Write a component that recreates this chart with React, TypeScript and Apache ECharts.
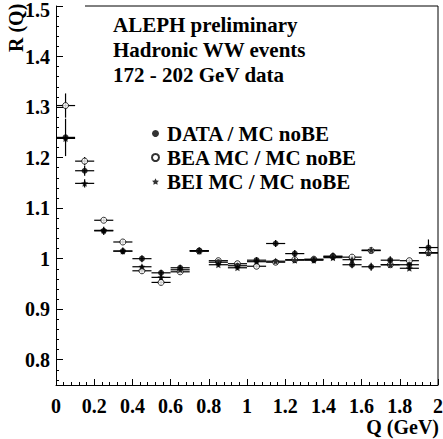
import React, { useEffect, useRef } from "react";
import * as echarts from "echarts";

// ---- Data ----
const qCenters = [0.05, 0.15, 0.25, 0.35, 0.45, 0.55, 0.65, 0.75, 0.85, 0.95, 1.05, 1.15, 1.25, 1.35, 1.45, 1.55, 1.65, 1.75, 1.85, 1.95];
const binHalfWidth = 0.05;

const dataR = [1.240, 1.174, 1.055, 1.015, 1.000, 0.972, 0.982, 1.016, 0.993, 0.986, 0.997, 1.030, 1.010, 0.998, 1.005, 0.988, 0.984, 0.997, 0.988, 1.022];
const dataErr = [0.037, 0.010, 0.008, 0.007, 0.007, 0.006, 0.006, 0.006, 0.006, 0.006, 0.006, 0.007, 0.007, 0.007, 0.007, 0.007, 0.008, 0.008, 0.009, 0.016];

const beaR = [1.303, 1.193, 1.076, 1.033, 0.976, 0.953, 0.974, 1.015, 0.996, 0.990, 0.985, 0.993, 0.998, 0.999, 1.004, 1.003, 1.016, 0.988, 0.996, 1.012];
const beaErr = [0.024, 0.008, 0.004, 0.004, 0.004, 0.004, 0.004, 0.004, 0.004, 0.004, 0.004, 0.004, 0.004, 0.004, 0.004, 0.004, 0.004, 0.004, 0.004, 0.006];

const beiR = [1.238, 1.149, 1.056, 1.015, 0.984, 0.963, 0.978, 1.015, 0.988, 0.982, 0.994, 0.995, 0.997, 0.997, 1.002, 0.998, 1.017, 0.988, 0.981, 1.011];
const beiErr = [0.008, 0.008, 0.004, 0.004, 0.004, 0.004, 0.004, 0.004, 0.004, 0.004, 0.004, 0.004, 0.004, 0.004, 0.004, 0.004, 0.004, 0.004, 0.004, 0.006];

const seriesNames = ["DATA / MC noBE", "BEA MC / MC noBE", "BEI MC / MC noBE"];
const titleLines = ["ALEPH preliminary", "Hadronic WW events", "172 - 202 GeV data"];
const yTickValues = [0.8, 0.9, 1.0, 1.1, 1.2, 1.3, 1.4, 1.5];
const yAxisTitle = "R (Q)";
const xAxisTitle = "Q (GeV)";

const FONT = "Liberation Serif, Times New Roman, serif";
const STAR = "path://M0,-10 L2.9,-4 L9.5,-3.1 L4.7,1.5 L5.9,8.1 L0,5 L-5.9,8.1 L-4.7,1.5 L-9.5,-3.1 L-2.9,-4 Z";

const yMinorTicks: number[] = [];
for (let i = 38; i <= 74; i++) {
  if (i % 5 !== 0) yMinorTicks.push(Math.round(i * 2) / 100);
}

function errorBars(name: string, values: number[], errs: number[]) {
  return {
    type: "custom",
    name,
    z: 2,
    data: qCenters.map((q, i) => [q, values[i], errs[i]]),
    encode: { x: 0, y: 1 },
    renderItem: (_params: any, api: any) => {
      const x = api.value(0);
      const y = api.value(1);
      const e = api.value(2);
      const l = api.coord([x - binHalfWidth, y]);
      const r = api.coord([x + binHalfWidth, y]);
      const t = api.coord([x, y + e]);
      const b = api.coord([x, y - e]);
      const style = { stroke: "#000", lineWidth: 1.2 };
      return {
        type: "group",
        children: [
          { type: "line", shape: { x1: l[0], y1: l[1], x2: r[0], y2: r[1] }, style },
          { type: "line", shape: { x1: t[0], y1: t[1], x2: b[0], y2: b[1] }, style },
        ],
      };
    },
  };
}

export default function App() {
  const ref = useRef<HTMLDivElement>(null);
  useEffect(() => {
    if (!ref.current) return;
    const chart = echarts.init(ref.current, null, { renderer: "svg" });
    const textBase = { fontFamily: FONT, fontWeight: "bold", fontSize: 21, fill: "#000" };
    const labelFont = { color: "#000", fontFamily: FONT, fontWeight: "bold", fontSize: 20 };
    chart.setOption({
      animation: false,
      backgroundColor: "#fff",
      grid: { left: 56, right: 5, top: 6, bottom: 54, containLabel: false, outerBoundsMode: "none" },
      xAxis: {
        type: "value",
        min: 0,
        max: 2,
        interval: 0.2,
        axisLine: { show: true, lineStyle: { color: "#000", width: 1 } },
        axisTick: { show: true, inside: true, length: 6, lineStyle: { color: "#000" } },
        minorTick: { show: true, splitNumber: 5, length: 3, lineStyle: { color: "#000" } },
        splitLine: { show: false },
        axisLabel: {
          show: true,
          margin: 11,
          ...labelFont,
          showMinLabel: true,
          showMaxLabel: true,
          hideOverlap: false,
        },
      },
      yAxis: [
        {
          type: "value",
          min: 0.75,
          max: 1.5,
          axisLine: { show: true, lineStyle: { color: "#000", width: 1 } },
          axisTick: { show: true, inside: true, length: 7, customValues: yTickValues, lineStyle: { color: "#000" } },
          splitLine: { show: false },
          axisLabel: {
            show: true,
            margin: 6,
            ...labelFont,
            customValues: yTickValues,
            formatter: (v: number) => {
              const s = String(Math.round(v * 10) / 10);
              return v >= 1.49 ? "{top|" + s + "}" : s;
            },
            rich: { top: { ...labelFont, padding: [7, 0, 0, 0] } },
          },
        },
        {
          type: "value",
          min: 0.75,
          max: 1.5,
          position: "left",
          offset: 0,
          axisLine: { show: false },
          axisTick: { show: true, inside: true, length: 3, customValues: yMinorTicks, lineStyle: { color: "#000" } },
          axisLabel: { show: false },
          splitLine: { show: false },
        },
      ],
      legend: {
        data: seriesNames,
        orient: "vertical",
        left: 146,
        top: 118,
        itemWidth: 7,
        itemHeight: 7,
        itemGap: 3,
        selectedMode: false,
        textStyle: { fontFamily: FONT, fontWeight: "bold", fontSize: 21, color: "#000", padding: [0, 0, 0, 3] },
      },
      series: [
        errorBars("DATA err", dataR, dataErr),
        errorBars("BEA err", beaR, beaErr),
        errorBars("BEI err", beiR, beiErr),
        {
          type: "scatter",
          name: seriesNames[1],
          z: 3,
          symbol: "circle",
          symbolSize: 6,
          itemStyle: { color: "#fff", borderColor: "#000", borderWidth: 1 },
          data: qCenters.map((q, i) => [q, beaR[i]]),
        },
        {
          type: "scatter",
          name: seriesNames[2],
          z: 4,
          symbol: STAR,
          symbolSize: 7,
          itemStyle: { color: "#000" },
          data: qCenters.map((q, i) => [q, beiR[i]]),
        },
        {
          type: "scatter",
          name: seriesNames[0],
          z: 5,
          symbol: "circle",
          symbolSize: 6,
          itemStyle: { color: "#000" },
          data: qCenters.map((q, i) => [q, dataR[i]]),
        },
      ],
      graphic: [
        { type: "line", shape: { x1: 85, y1: 6, x2: 438, y2: 6 }, style: { stroke: "#000", lineWidth: 1 } },
        { type: "line", shape: { x1: 438, y1: 6, x2: 438, y2: 385 }, style: { stroke: "#000", lineWidth: 1 } },
        ...titleLines.map((t, i) => ({
          type: "text",
          left: 113,
          top: 14 + i * 25,
          style: { ...textBase, text: t },
        })),
        {
          type: "text",
          x: 16,
          y: 52,
          rotation: Math.PI / 2,
          style: { ...textBase, fontSize: 20, text: yAxisTitle, align: "left", verticalAlign: "middle" },
        },
        {
          type: "text",
          x: 439,
          y: 427,
          style: { ...textBase, fontSize: 20, text: xAxisTitle, align: "right", verticalAlign: "middle" },
        },
      ],
    });
    return () => chart.dispose();
  }, []);
  return <div ref={ref} style={{ position: "absolute", left: 0, top: 0, width: 443, height: 439 }} />;
}
